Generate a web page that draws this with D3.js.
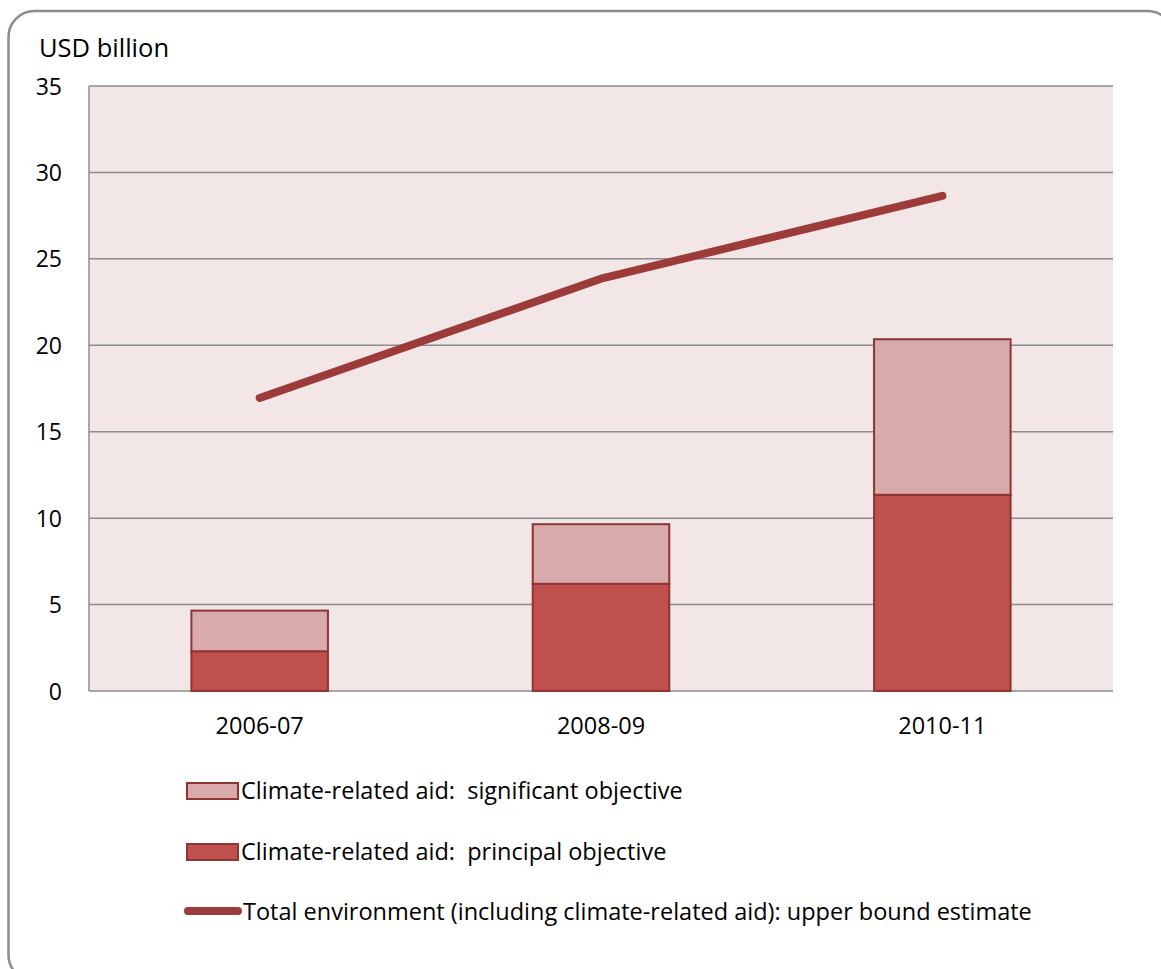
<!DOCTYPE html>
<html><head><meta charset="utf-8">
<script src="https://cdn.jsdelivr.net/npm/d3@7"></script>
<style>body{margin:0;background:#fff}svg text{font-family:"Open Sans",sans-serif;fill:#000;white-space:pre}</style>
</head><body><svg id="c" width="1161" height="969"></svg>
<script>
const categories = ["2006-07","2008-09","2010-11"];
const principal = [2.3, 6.2, 11.35];
const significant = [2.35, 3.45, 9.0];
const totalEnv = [16.95, 23.85, 28.65];
const yTicks = [0,5,10,15,20,25,30,35];
const legendLabels = ["Climate-related aid:  significant objective","Climate-related aid:  principal objective","Total environment (including climate-related aid): upper bound estimate"];

const svg = d3.select("#c");
svg.append("rect").attr("x",8.5).attr("y",11).attr("width",1165).attr("height",970).attr("rx",26)
  .attr("fill","#fff").attr("stroke","#8c8c8c").attr("stroke-width",2.5);

const L=89, R=1113, T=86, B=691;
const x = d3.scaleBand().domain(categories).range([L,R]).paddingInner(0.6).paddingOuter(0.3);
const y = d3.scaleLinear().domain([0,35]).range([B,T]);

svg.append("rect").attr("x",L).attr("y",T).attr("width",R-L).attr("height",B-T).attr("fill","#f2e7e6");
const g = svg.append("g");
g.selectAll("line.grid").data(yTicks).join("line").attr("class","grid")
  .attr("x1",L).attr("x2",R).attr("y1",d=>y(d)).attr("y2",d=>y(d))
  .attr("stroke","#8c8c8c").attr("stroke-width",1.5);
svg.append("line").attr("x1",L).attr("x2",L).attr("y1",T).attr("y2",B).attr("stroke","#8c8c8c").attr("stroke-width",1.5);

const yAxis = d3.axisLeft(y).tickValues(yTicks).tickSize(0).tickPadding(0);
const ya = svg.append("g").attr("transform",`translate(${L-27},0)`).call(yAxis);
ya.select(".domain").remove();
ya.selectAll("text").style("font-size","23px").attr("dy","0.35em");

const xAxis = d3.axisBottom(x).tickSize(0).tickPadding(0);
const xa = svg.append("g").attr("transform",`translate(0,${B+43})`).call(xAxis);
xa.select(".domain").remove();
xa.selectAll("text").style("font-size","23.5px").attr("dy","0");

// bars
const stroke="#8e3432";
g.selectAll("rect.p").data(categories).join("rect").attr("class","p")
  .attr("x",d=>x(d)).attr("width",x.bandwidth())
  .attr("y",(d,i)=>y(principal[i])).attr("height",(d,i)=>y(0)-y(principal[i]))
  .attr("fill","#c0504d").attr("stroke",stroke).attr("stroke-width",2);
g.selectAll("rect.s").data(categories).join("rect").attr("class","s")
  .attr("x",d=>x(d)).attr("width",x.bandwidth())
  .attr("y",(d,i)=>y(principal[i]+significant[i])).attr("height",(d,i)=>y(principal[i])-y(principal[i]+significant[i]))
  .attr("fill","#d9aaab").attr("stroke",stroke).attr("stroke-width",2);

const line = d3.line().x((d,i)=>x(categories[i])+x.bandwidth()/2).y(d=>y(d));
g.append("path").datum(totalEnv).attr("d",line).attr("fill","none")
  .attr("stroke","#9c3b39").attr("stroke-width",8).attr("stroke-linecap","round").attr("stroke-linejoin","round");

// legend
const lg = svg.append("g");
lg.append("rect").attr("x",187).attr("y",783).attr("width",51).attr("height",16).attr("fill","#d9aaab").attr("stroke",stroke).attr("stroke-width",2);
lg.append("rect").attr("x",187).attr("y",844).attr("width",51).attr("height",16).attr("fill","#c0504d").attr("stroke",stroke).attr("stroke-width",2);
lg.append("line").attr("x1",188).attr("x2",238).attr("y1",911).attr("y2",911).attr("stroke","#9c3b39").attr("stroke-width",8).attr("stroke-linecap","round");
[799,860,920].forEach((yy,i)=>{
  lg.append("text").attr("x",i==2?243:241).attr("y",yy).style("font-size","23.5px").text(legendLabels[i]);
});
svg.append("text").attr("x",39).attr("y",57).style("font-size","25.5px").text("USD billion");
</script></body></html>
